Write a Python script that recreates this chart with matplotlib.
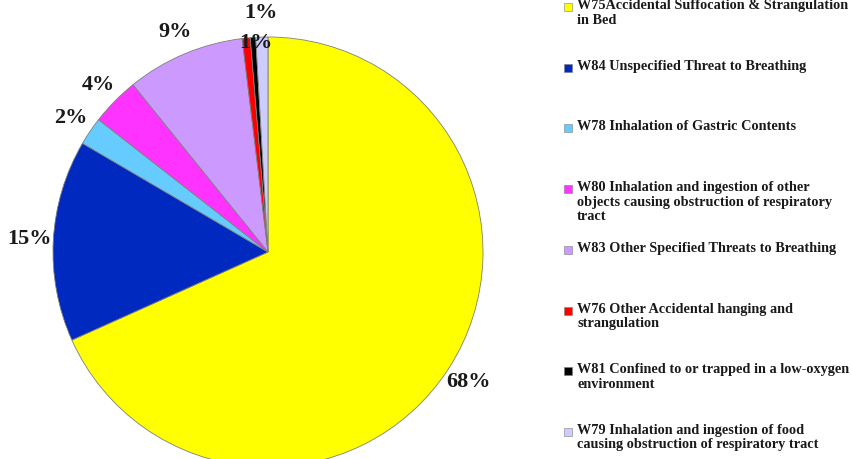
import matplotlib
matplotlib.use("Agg")
import matplotlib.pyplot as plt
from matplotlib.patches import Rectangle

categories = [
    "W75Accidental Suffocation & Strangulation\nin Bed",
    "W84 Unspecified Threat to Breathing",
    "W78 Inhalation of Gastric Contents",
    "W80 Inhalation and ingestion of other\nobjects causing obstruction of respiratory\ntract",
    "W83 Other Specified Threats to Breathing",
    "W76 Other Accidental hanging and\nstrangulation",
    "W81 Confined to or trapped in a low-oxygen\nenvironment",
    "W79 Inhalation and ingestion of food\ncausing obstruction of respiratory tract",
]
shares = [67.6, 15.0, 2.1, 3.6, 8.8, 0.6, 0.4, 0.9]
colors = ["#FFFF00", "#0029BF", "#66CCFF", "#FF33FF", "#CC99FF",
          "#FF0000", "#000000", "#CCCCFF"]
# slices whose percentage label is shown
show_label = [True, True, True, True, True, True, False, True]

W, H = 851, 459
fig = plt.figure(figsize=(W / 100, H / 100), dpi=100)
ax = fig.add_axes([0, 0, 1, 1])

cx, cy, r = 268, 252, 215

total = sum(shares)
wedges, texts = ax.pie(
    shares, colors=colors, startangle=90, counterclock=False,
    radius=1.0, labels=[f"{round(v / total * 100)}%" for v in shares],
    labeldistance=1.11,
    wedgeprops=dict(edgecolor="#7f7f7f", linewidth=0.6),
    textprops=dict(family="Liberation Serif", fontweight="bold",
                   fontsize=16, color="#1a1a1a"),
)
ax.set_axis_off()
ax.set_xlim(-cx / r, (W - cx) / r)
ax.set_ylim(-(H - cy) / r, cy / r)
ax.set_aspect("equal")

for i, t in enumerate(texts):
    t.set_visible(show_label[i])
    t.set_ha("center")
    t.set_va("center")
# the red slice label sits just inside the rim
x, y = texts[5].get_position()
texts[5].set_position((x * 0.51, y * 0.88))
for w in wedges:
    w.set_clip_on(False)

# legend: one entry per slice, evenly spaced down the right side
leg_x, top_y, step = 564, 7, 60.7
for i, (lab, col) in enumerate(zip(categories, colors)):
    yc = top_y + i * step
    fig.patches.append(Rectangle((leg_x / W, 1 - (yc + 4) / H), 8 / W, 8 / H,
                                 transform=fig.transFigure, facecolor=col,
                                 edgecolor="#7f7f7f", linewidth=0.4))
    fig.text((leg_x + 13) / W, 1 - (yc - 8) / H, lab, ha="left", va="top",
             family="Liberation Serif", fontweight="bold", fontsize=10.3,
             color="#1a1a1a", linespacing=1.15)

fig.savefig("out.png", dpi=100)
